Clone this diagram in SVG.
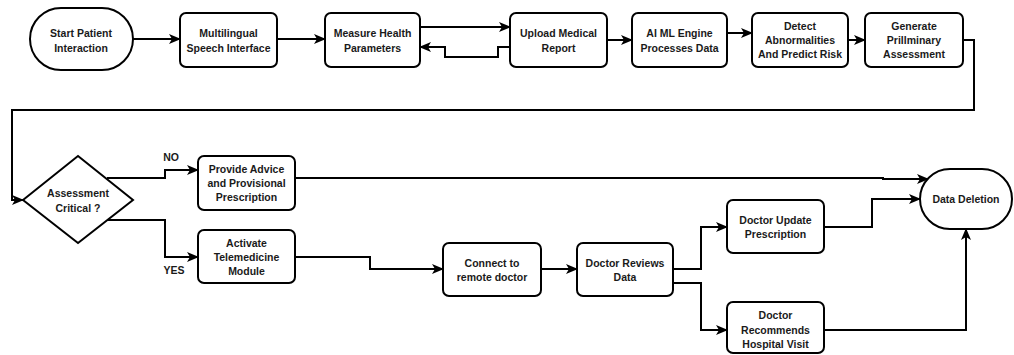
<svg xmlns="http://www.w3.org/2000/svg" width="1014" height="355" viewBox="0 0 1014 355">
  <style>
    .shape { fill: #ffffff; stroke: #000000; stroke-width: 2; }
    .edge { fill: none; stroke: #000000; stroke-width: 2; }
    text { font-family: "Liberation Sans", Arial, sans-serif; font-size: 10.5px; font-weight: bold; fill: #1a1a1a; text-anchor: middle; }
  </style>
  <defs>
    <marker id="arrow" markerUnits="userSpaceOnUse" markerWidth="12" markerHeight="10" viewBox="0 0 12 10" refX="11" refY="5" orient="auto">
      <path d="M0,0 L12,5 L0,10 L3,5 Z" fill="#000000"/>
    </marker>
  </defs>
  <rect width="1014" height="355" fill="#ffffff"/>

  <!-- connectors -->
  <g id="connectors">
    <path class="edge" d="M133,39 H180" marker-end="url(#arrow)"/>
    <path class="edge" d="M277,39 H325" marker-end="url(#arrow)"/>
    <path class="edge" d="M420,27 H510" marker-end="url(#arrow)"/>
    <path class="edge" d="M510,47 H498 V57 H445 V47 H420" marker-end="url(#arrow)"/>
    <path class="edge" d="M607,40 H632" marker-end="url(#arrow)"/>
    <path class="edge" d="M727,33 H752" marker-end="url(#arrow)"/>
    <path class="edge" d="M848,40 H865" marker-end="url(#arrow)"/>
    <path class="edge" d="M963,40 H974 V110 H12 V200 H23" marker-end="url(#arrow)"/>
    <path class="edge" d="M107,178 H165 V170 H198" marker-end="url(#arrow)"/>
    <path class="edge" d="M107,220 H165 V257 H198" marker-end="url(#arrow)"/>
    <path class="edge" d="M295,178 H883 V179 H928" marker-end="url(#arrow)"/>
    <path class="edge" d="M295,257 H370 V269 H443" marker-end="url(#arrow)"/>
    <path class="edge" d="M541,269 H577" marker-end="url(#arrow)"/>
    <path class="edge" d="M673,269 H701 V227 H727" marker-end="url(#arrow)"/>
    <path class="edge" d="M673,283 H701 V330 H727" marker-end="url(#arrow)"/>
    <path class="edge" d="M824,227 H872 V199 H920" marker-end="url(#arrow)"/>
    <path class="edge" d="M824,330 H966 V229" marker-end="url(#arrow)"/>
    <text x="171" y="161">NO</text>
    <text x="174" y="274">YES</text>
  </g>

  <g id="start">
    <rect class="shape" x="30" y="8" width="103" height="62" rx="31" ry="31"/>
    <text x="81" y="37">Start Patient</text>
    <text x="81" y="52">Interaction</text>
  </g>
  <g id="speech">
    <rect class="shape" x="180" y="13" width="97" height="54" rx="6"/>
    <text x="228.5" y="37">Multilingual</text>
    <text x="228.5" y="52">Speech Interface</text>
  </g>
  <g id="measure">
    <rect class="shape" x="325" y="13" width="95" height="54" rx="6"/>
    <text x="372.5" y="37">Measure Health</text>
    <text x="372.5" y="52">Parameters</text>
  </g>
  <g id="upload">
    <rect class="shape" x="510" y="13" width="97" height="54" rx="6"/>
    <text x="558.5" y="37">Upload Medical</text>
    <text x="558.5" y="52">Report</text>
  </g>
  <g id="aiml">
    <rect class="shape" x="632" y="13" width="95" height="54" rx="6"/>
    <text x="679.5" y="37">AI ML Engine</text>
    <text x="679.5" y="52">Processes Data</text>
  </g>
  <g id="detect">
    <rect class="shape" x="752" y="13" width="96" height="54" rx="6"/>
    <text x="800" y="30">Detect</text>
    <text x="800" y="44">Abnormalities</text>
    <text x="800" y="58">And Predict Risk</text>
  </g>
  <g id="generate">
    <rect class="shape" x="865" y="13" width="98" height="54" rx="6"/>
    <text x="914" y="30">Generate</text>
    <text x="914" y="44">Prillminary</text>
    <text x="914" y="58">Assessment</text>
  </g>
  <g id="decision">
    <polygon class="shape" points="23,200 78,156 133,200 78,243"/>
    <text x="78" y="197">Assessment</text>
    <text x="78" y="212">Critical ?</text>
  </g>
  <g id="advice">
    <rect class="shape" x="198" y="156" width="97" height="54" rx="6"/>
    <text x="246.5" y="173">Provide Advice</text>
    <text x="246.5" y="187">and Provisional</text>
    <text x="246.5" y="201">Prescription</text>
  </g>
  <g id="telemedicine">
    <rect class="shape" x="198" y="230" width="97" height="53" rx="6"/>
    <text x="246.5" y="247">Activate</text>
    <text x="246.5" y="261">Telemedicine</text>
    <text x="246.5" y="275">Module</text>
  </g>
  <g id="connect">
    <rect class="shape" x="443" y="243" width="98" height="53" rx="6"/>
    <text x="492" y="267">Connect to</text>
    <text x="492" y="281">remote doctor</text>
  </g>
  <g id="reviews">
    <rect class="shape" x="577" y="243" width="96" height="53" rx="6"/>
    <text x="625" y="267">Doctor Reviews</text>
    <text x="625" y="281">Data</text>
  </g>
  <g id="update">
    <rect class="shape" x="727" y="200" width="97" height="53" rx="6"/>
    <text x="775.5" y="224">Doctor Update</text>
    <text x="775.5" y="238">Prescription</text>
  </g>
  <g id="hospital">
    <rect class="shape" x="727" y="302" width="97" height="51" rx="6"/>
    <text x="775.5" y="319">Doctor</text>
    <text x="775.5" y="334">Recommends</text>
    <text x="775.5" y="348">Hospital Visit</text>
  </g>
  <g id="deletion">
    <rect class="shape" x="920" y="169" width="92" height="60" rx="30" ry="30"/>
    <text x="966" y="203">Data Deletion</text>
  </g>
</svg>
